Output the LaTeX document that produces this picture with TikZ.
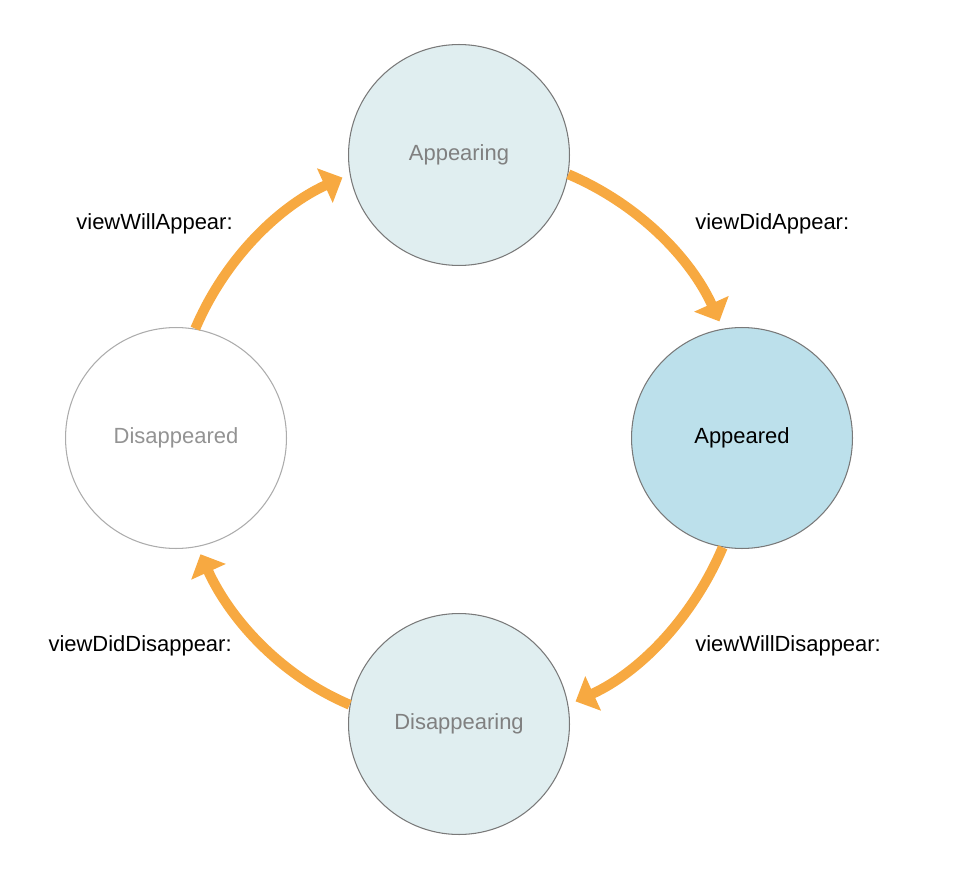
\documentclass[tikz,border=0pt]{standalone}
\usepackage{fontspec}
\setmainfont{Liberation Sans}
\usetikzlibrary{arrows.meta}

\definecolor{flow}{HTML}{F7A941}
\definecolor{paleblue}{HTML}{E0EEF0}
\definecolor{lightblue}{HTML}{BCE0EB}

\tikzset{
  state/.style={circle, draw=gray!95!black, line width=0.6pt, minimum size=4.42cm,
    inner sep=0pt, font=\fontsize{12.5}{15}\selectfont},
  lbl/.style={inner sep=0pt, font=\fontsize{12.5}{15}\selectfont},
  trans/.style={draw=flow, line width=5.7pt, -{Triangle[length=11pt,width=21pt]},
    shorten >=0.16cm, looseness=0.9}
}

\begin{document}
\begin{tikzpicture}[x=0.02cm, y=0.02cm]
			\useasboundingbox (0, 0) rectangle (960, 877);

			\node[state, fill=paleblue, text=gray] (appearing) at (459, 722) {Appearing};
			\node[state, fill=lightblue, text=black] (appeared) at (742, 439) {Appeared};
			\node[state, fill=paleblue, text=gray] (disappearing) at (459, 153) {Disappearing};
			\node[state, fill=white, draw=gray!65, text=gray!85] (disappeared) at (176, 439) {Disappeared};

			\node[lbl, anchor=east] (willappear) at (233, 653) {viewWillAppear:};
			\node[lbl, anchor=west] (didappear) at (695, 653) {viewDidAppear:};
			\node[lbl, anchor=west] (willdisappear) at (695, 231) {viewWillDisappear:};
			\node[lbl, anchor=east] (diddisappear) at (232, 231) {viewDidDisappear:};

			\draw [trans] (appearing.-10) to[out=-23, in=114.5] (appeared.100.5);
			\draw [trans] (appeared.-100) to[out=-113, in=24.5] (disappearing.10.5);
			\draw [trans] (disappearing.170) to[out=157, in=-65.5] (disappeared.-79.5);
			\draw [trans] (disappeared.80) to[out=67, in=-155.5] (appearing.190.5);
		\end{tikzpicture}
\end{document}
